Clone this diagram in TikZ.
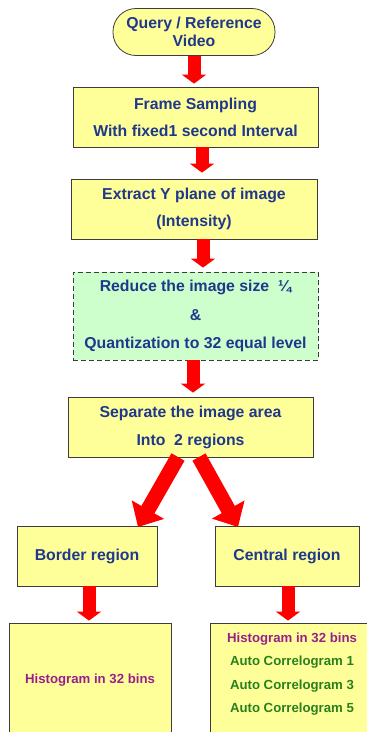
\documentclass[tikz,border=0pt]{standalone}
\usepackage{fontspec}
\setmainfont{Liberation Sans}
\usetikzlibrary{arrows.meta}
\definecolor{boxyellow}{RGB}{255,255,153}
\definecolor{boxgreen}{RGB}{204,255,204}
\definecolor{navytext}{RGB}{31,56,140}
\definecolor{purpletext}{RGB}{153,31,140}
\definecolor{greentext}{RGB}{40,128,30}
\definecolor{arrowred}{RGB}{255,0,0}
\definecolor{edgegray}{RGB}{60,60,60}
\tikzset{
  box/.style={draw=edgegray, line width=0.8pt, fill=boxyellow, align=center,
    font=\fontsize{15.8}{27}\selectfont\bfseries, text=navytext, inner sep=0pt},
  greenbox/.style={box, fill=boxgreen, dashed, dash pattern=on 5pt off 3pt},
  blockarrow/.style={draw=arrowred, line width=13pt,
    -{Triangle[length=9pt,width=24pt]}},
  bigarrow/.style={draw=arrowred, line width=15pt,
    -{Triangle[length=20pt,width=36pt]}},
  smalltext/.style={font=\fontsize{13.2}{23.5}\selectfont\bfseries, align=center}
}
\begin{document}
\begin{tikzpicture}[x=1pt,y=-1pt]
\useasboundingbox (0,0) rectangle (367,732);
\clip (0,0) rectangle (367,732);
\node[box, minimum width=162pt, minimum height=47pt, rounded corners=23pt,
  font=\fontsize{15.8}{18}\selectfont\bfseries] (q) at (194,32) {Query / Reference\\Video};
\node[box, minimum width=245pt, minimum height=60pt] (f) at (195.5,117)
  {Frame Sampling\\With fixed1 second Interval};
\node[box, minimum width=246pt, minimum height=60pt] (e) at (194,209)
  {Extract Y plane of image\\(Intensity)};
\node[greenbox, minimum width=245pt, minimum height=88pt,
  font=\fontsize{15.8}{28.5}\selectfont\bfseries] (r) at (195.5,316)
  {Reduce the image size~~¼\\\&\\Quantization to 32 equal level};
\node[box, minimum width=245pt, minimum height=60pt,
  font=\fontsize{15.8}{28}\selectfont\bfseries] (s) at (190.5,427)
  {Separate the image area\\Into~~2 regions};
\node[box, minimum width=140pt, minimum height=60pt] (b) at (87,556) {Border region};
\node[box, minimum width=144pt, minimum height=60pt] (c) at (287,556) {Central region};
\node[box, minimum width=162pt, minimum height=122pt] (hb) at (90,684) {};
\node[smalltext, text=purpletext] (hbt) at (90,680) {Histogram in 32 bins};
\node[box, minimum width=165pt, minimum height=122pt] (hc) at (292.5,684) {};
\node[smalltext, anchor=north] (hct) at (292,629)
  {\textcolor{purpletext}{Histogram in 32 bins}\\
   \textcolor{greentext}{Auto Correlogram 1}\\
   \textcolor{greentext}{Auto Correlogram 3}\\
   \textcolor{greentext}{Auto Correlogram 5}};
% arrows
\draw[blockarrow, shorten >=3pt] (q.south) -- (f.north -| q.south);
\draw[blockarrow, shorten >=6pt] (f.south -| 202,0) -- (e.north -| 202,0);
\draw[blockarrow, shorten >=4pt] (e.south -| 203,0) -- (r.north -| 203,0);
\draw[blockarrow, shorten >=4pt] (r.south -| 193,0) -- (s.north -| 193,0);
\draw[bigarrow] (178,457) -- (138,527);
\draw[bigarrow] (199,457) -- (238,527);
\draw[blockarrow, shorten >=2pt] (b.south -| 89,0) -- (hb.north -| 89,0);
\draw[blockarrow, shorten >=2pt] (c.south -| 288,0) -- (hc.north -| 288,0);
\end{tikzpicture}
\end{document}
